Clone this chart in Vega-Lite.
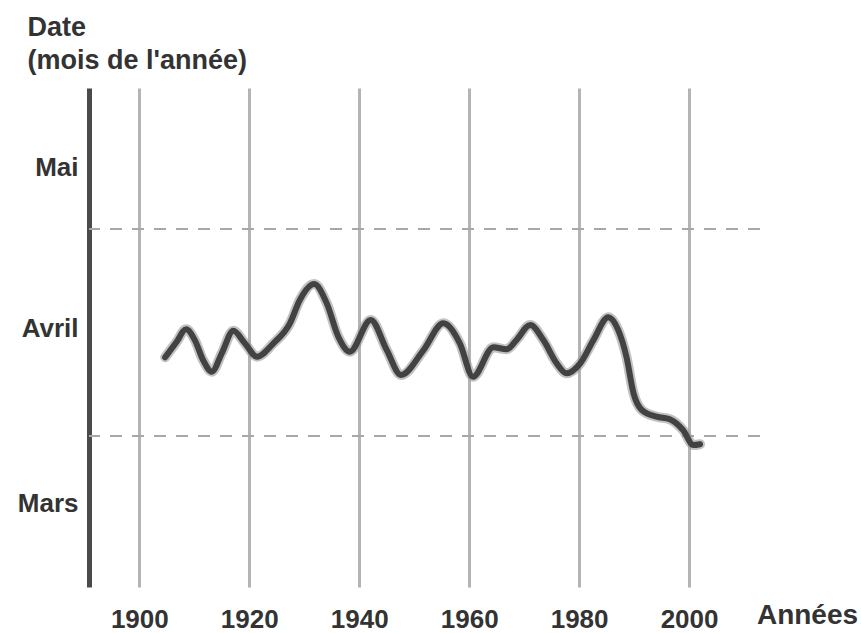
{
  "$schema": "https://vega.github.io/schema/vega-lite/v6.json",
  "width": 671,
  "height": 499,
  "autosize": {"type": "none"},
  "padding": {"left": 89, "top": 88, "right": 101, "bottom": 46},
  "background": "white",
  "config": {"view": {"stroke": null}, "font": "Liberation Sans"},
  "datasets": {
    "serie": [
      {"annee": 1904.7, "mois": 3.818},
      {"annee": 1906.8, "mois": 3.915},
      {"annee": 1908.5, "mois": 3.992},
      {"annee": 1910.1, "mois": 3.925},
      {"annee": 1911.6, "mois": 3.801},
      {"annee": 1913.2, "mois": 3.729},
      {"annee": 1915.0, "mois": 3.843},
      {"annee": 1917.1, "mois": 3.983},
      {"annee": 1919.2, "mois": 3.905},
      {"annee": 1921.4, "mois": 3.822},
      {"annee": 1924.4, "mois": 3.905},
      {"annee": 1927.4, "mois": 4.029},
      {"annee": 1929.2, "mois": 4.174},
      {"annee": 1931.8, "mois": 4.273},
      {"annee": 1934.1, "mois": 4.153},
      {"annee": 1936.2, "mois": 3.946},
      {"annee": 1938.3, "mois": 3.853},
      {"annee": 1942.1, "mois": 4.05},
      {"annee": 1945.0, "mois": 3.863},
      {"annee": 1947.6, "mois": 3.708},
      {"annee": 1951.7, "mois": 3.863},
      {"annee": 1955.3, "mois": 4.029},
      {"annee": 1958.3, "mois": 3.905},
      {"annee": 1960.7, "mois": 3.697},
      {"annee": 1964.4, "mois": 3.88},
      {"annee": 1966.8, "mois": 3.868},
      {"annee": 1968.6, "mois": 3.925},
      {"annee": 1971.1, "mois": 4.019},
      {"annee": 1973.5, "mois": 3.925},
      {"annee": 1975.9, "mois": 3.781},
      {"annee": 1977.7, "mois": 3.719},
      {"annee": 1980.2, "mois": 3.781},
      {"annee": 1982.6, "mois": 3.925},
      {"annee": 1985.3, "mois": 4.067},
      {"annee": 1987.1, "mois": 3.988},
      {"annee": 1988.6, "mois": 3.822},
      {"annee": 1989.9, "mois": 3.594},
      {"annee": 1991.4, "mois": 3.491},
      {"annee": 1994.1, "mois": 3.449},
      {"annee": 1996.5, "mois": 3.433},
      {"annee": 1998.9, "mois": 3.366},
      {"annee": 2000.8, "mois": 3.273},
      {"annee": 2002.0, "mois": 3.278}
    ],
    "ref": [{"mois": 4.615}, {"mois": 3.329}]
  },
  "encoding": {
    "y": {
      "field": "mois",
      "type": "quantitative",
      "scale": {"domain": [2.391, 5.491], "nice": false, "zero": false},
      "axis": {
        "title": ["Date", "(mois de l'année)"],
        "titleAngle": 0,
        "titleAlign": "left",
        "titleBaseline": "alphabetic",
        "titleX": -62,
        "titleY": -53,
        "titleFontSize": 27,
        "titleFontWeight": "bold",
        "titleColor": "#333333",
        "titleLineHeight": 33,
        "values": [2.907, 4, 5],
        "labelExpr": "datum.value > 4.5 ? 'Mai' : datum.value > 3.5 ? 'Avril' : 'Mars'",
        "labelFontSize": 26,
        "labelFontWeight": "bold",
        "labelColor": "#333333",
        "labelPadding": 11,
        "labelBaseline": "middle",
        "ticks": false,
        "tickSize": 0,
        "grid": false,
        "domainColor": "#4a4a4a",
        "domainWidth": 5
      }
    }
  },
  "layer": [
    {
      "data": {"name": "ref"},
      "mark": {"type": "rule", "color": "#a8a8a8", "strokeWidth": 2, "strokeDash": [12, 10]}
    },
    {
      "data": {"name": "serie"},
      "mark": {"type": "line", "interpolate": "monotone", "color": "#9a9a9a", "strokeWidth": 10, "opacity": 0.6, "strokeCap": "round"},
      "encoding": {
        "x": {
          "field": "annee",
          "type": "quantitative",
          "scale": {"domain": [1890.85, 2012.9], "nice": false, "zero": false},
          "axis": {
            "title": "Années",
            "titleX": 718,
            "titleY": 28,
            "titleAlign": "center",
            "titleBaseline": "middle",
            "titleFontSize": 28,
            "titleFontWeight": "bold",
            "titleColor": "#333333",
            "values": [1900, 1920, 1940, 1960, 1980, 2000],
            "format": "d",
            "labelFontSize": 26,
            "labelFontWeight": "bold",
            "labelColor": "#333333",
            "labelPadding": 19,
            "labelDx": 5,
            "ticks": false,
            "tickSize": 0,
            "domain": false,
            "grid": true,
            "gridColor": "#b4b4b4",
            "gridWidth": 3
          }
        }
      }
    },
    {
      "data": {"name": "serie"},
      "mark": {"type": "line", "interpolate": "monotone", "color": "#424242", "strokeWidth": 6, "strokeCap": "round"},
      "encoding": {
        "x": {"field": "annee", "type": "quantitative"}
      }
    }
  ]
}
